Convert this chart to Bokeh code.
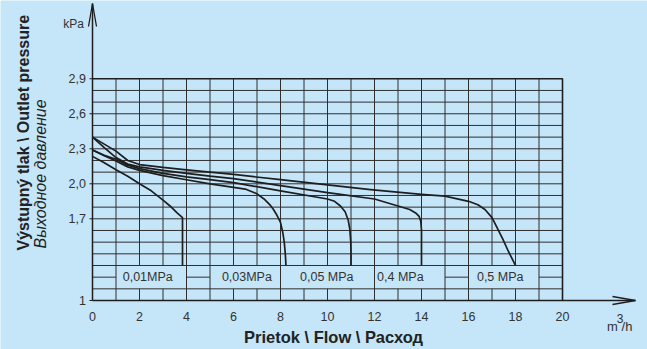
import numpy as np
from bokeh.plotting import figure
from bokeh.models import Range1d
from bokeh.core.properties import value
from bokeh.embed import file_html
from bokeh.resources import INLINE

# ---------------- data ----------------
series_names = ["0,01MPa", "0,03MPa", "0,05 MPa", "0,4 MPa", "0,5 MPa"]

flow_001 = [0, 0.5, 1, 1.5, 2, 2.5, 3, 3.3, 3.6, 3.83, 3.83]
pres_001 = [2.235, 2.18, 2.12, 2.065, 2.0, 1.94, 1.86, 1.81, 1.75, 1.71, 1.30]

flow_003 = [0, 0.5, 1, 1.5, 2, 3, 4, 5, 6, 6.5, 7.0, 7.3, 7.55, 7.7, 7.85, 8.0, 8.1, 8.16, 8.2, 8.22, 8.23]
pres_003 = [2.29, 2.24, 2.195, 2.145, 2.115, 2.07, 2.035, 2.0, 1.97, 1.955, 1.914, 1.87, 1.82, 1.78, 1.73, 1.67, 1.58, 1.50, 1.41, 1.35, 1.30]

flow_005 = [0, 0.5, 1, 1.5, 2, 3, 4, 5, 6, 8, 10, 10.3, 10.55, 10.75, 10.88, 10.95, 10.99, 11.0, 11.0]
pres_005 = [2.29, 2.245, 2.21, 2.16, 2.13, 2.09, 2.06, 2.035, 2.01, 1.94, 1.87, 1.85, 1.81, 1.76, 1.69, 1.61, 1.50, 1.40, 1.30]

flow_04 = [0, 0.5, 1, 1.5, 2, 3, 4, 5, 6, 8, 10, 10.55, 12, 13, 13.5, 13.75, 13.9, 13.97, 14.0, 14.0]
pres_04 = [2.40, 2.31, 2.225, 2.17, 2.145, 2.115, 2.09, 2.065, 2.045, 1.985, 1.925, 1.91, 1.87, 1.81, 1.78, 1.75, 1.72, 1.68, 1.60, 1.30]

flow_05 = [0, 0.5, 1, 1.5, 2, 3, 4, 5, 6, 8, 10, 11.83, 14, 15, 16, 16.4, 16.7, 17.0, 17.2, 17.45, 17.7, 18.0]
pres_05 = [2.40, 2.34, 2.28, 2.20, 2.165, 2.14, 2.12, 2.10, 2.08, 2.035, 1.99, 1.95, 1.91, 1.894, 1.85, 1.82, 1.78, 1.71, 1.63, 1.53, 1.42, 1.30]

x_ticks = [0, 2, 4, 6, 8, 10, 12, 14, 16, 18, 20]
x_tick_labels = ["0", "2", "4", "6", "8", "10", "12", "14", "16", "18", "20"]
y_ticks = [1.0, 1.7, 2.0, 2.3, 2.6, 2.9]
y_tick_labels = ["1", "1,7", "2,0", "2,3", "2,6", "2,9"]

grid_x_max = 20
grid_y_min, grid_y_max = 1.0, 2.9
band_low, band_mid, band_high = 1.1, 1.2, 1.3
label_boxes = [(1, 4), (5, 8), (8, 12), (12, 15), (16, 19)]
label_centers = [2.35, 6.57, 9.97, 13.1, 17.35]

x_title = "Prietok \\ Flow \\ Расход"
y_title_1 = "Výstupný tlak \\ Outlet pressure"
y_title_2 = "Выходное давление"
y_unit = "kPa"
x_unit_parts = ["m", "3", "/h"]

# ---------------- geometry / style ----------------
BG = "#c5e5f8"
INK = "#1e1e1e"
GRID = "#2f2f2f"
TXT = "#333333"
SANS = "Liberation Sans"

FIG_W, FIG_H = 647, 349
PXX, PXY = 23.5, 116.7           # pixels per data unit
OX, OY = 92, 300                 # canvas position of (0, 1)

x_start = -OX / PXX
x_end = x_start + FIG_W / PXX
y_start = 1 - (FIG_H - OY) / PXY
y_end = y_start + FIG_H / PXY


def fx(px):
    return (px - OX) / PXX


def fy(py):
    return 1 + (OY - py) / PXY


p = figure(width=FIG_W, height=FIG_H, output_backend="svg", toolbar_location=None,
           x_range=Range1d(x_start, x_end), y_range=Range1d(y_start, y_end),
           x_axis_location=None, y_axis_location=None,
           min_border=0, background_fill_color=BG, border_fill_color=BG,
           outline_line_color=None, title=None)
p.xgrid.visible = False
p.ygrid.visible = False

# ---------------- grid ----------------
box_edges = sorted({e for b in label_boxes for e in b})
gaps = []
cur = 0
for a, b in label_boxes:
    if a > cur:
        gaps.append((cur, a))
    cur = max(cur, b)
if cur < grid_x_max:
    gaps.append((cur, grid_x_max))

gx0, gy0, gx1, gy1 = [], [], [], []
for xv in range(1, grid_x_max):
    if xv in box_edges:
        gx0 += [xv]; gy0 += [grid_y_min]; gx1 += [xv]; gy1 += [grid_y_max]
    else:
        gx0 += [xv, xv]; gy0 += [grid_y_min, band_high]
        gx1 += [xv, xv]; gy1 += [band_low, grid_y_max]
for yv in np.round(np.arange(grid_y_min + 0.1, grid_y_max - 0.05, 0.1), 2):
    if abs(yv - band_mid) < 1e-6:
        for a, b in gaps:
            gx0.append(a); gy0.append(yv); gx1.append(b); gy1.append(yv)
    else:
        gx0.append(0); gy0.append(yv); gx1.append(grid_x_max); gy1.append(yv)
p.segment(x0=gx0, y0=gy0, x1=gx1, y1=gy1, line_color=GRID, line_width=1)

# frame border (top and right)
p.line(x=[0, grid_x_max, grid_x_max], y=[grid_y_max, grid_y_max, grid_y_min],
       line_color=INK, line_width=1.6)

# y tick marks (outward)
p.segment(x0=[-3 / PXX] * len(y_ticks), y0=y_ticks, x1=[0] * len(y_ticks), y1=y_ticks,
          line_color=INK, line_width=1)

# axes with arrows
x_tip = fx(635)
y_tip = fy(3)
p.line(x=[0, 0], y=[1, y_tip], line_color=INK, line_width=1.5)
p.line(x=[0, x_tip], y=[1, 1], line_color=INK, line_width=1.5)
p.line(x=[-4 / PXX, 0, 4 / PXX], y=[y_tip - 23 / PXY, y_tip, y_tip - 23 / PXY],
       line_color=INK, line_width=1.3)
p.line(x=[x_tip - 23 / PXX, x_tip, x_tip - 23 / PXX], y=[1 + 4 / PXY, 1, 1 - 4 / PXY],
       line_color=INK, line_width=1.3)

# tick labels
p.text(x=x_ticks, y=[fy(316)] * len(x_ticks), text=x_tick_labels, text_align="center",
       text_baseline="middle", text_font=value(SANS), text_font_size=value("12.5px"),
       text_color=TXT)
p.text(x=[fx(85.5)] * len(y_ticks), y=y_ticks, text=y_tick_labels, text_align="right",
       text_baseline="middle", text_font=value(SANS), text_font_size=value("12.5px"),
       text_color=TXT)

# ---------------- curves ----------------
curves = [(flow_001, pres_001), (flow_003, pres_003), (flow_005, pres_005),
          (flow_04, pres_04), (flow_05, pres_05)]
for fl, pr in curves:
    p.line(x=fl, y=pr, line_color=INK, line_width=1.7, line_join="round")

# band labels
p.text(x=label_centers, y=[band_mid] * len(label_centers), text=series_names,
       text_align="center", text_baseline="middle", text_font=value(SANS),
       text_font_size=value("12.5px"), text_color=TXT)

# ---------------- titles ----------------
p.text(x=[fx(333)], y=[fy(336)], text=[x_title], text_align="center",
       text_baseline="middle", text_font=value(SANS), text_font_size=value("16.5px"),
       text_font_style="bold", text_color="#222222")
p.text(x=[fx(22.5)], y=[fy(250)], text=[y_title_1], angle=np.pi / 2,
       text_align="left", text_baseline="middle", text_font=value(SANS),
       text_font_size=value("16px"), text_font_style="bold", text_color="#222222")
p.text(x=[fx(40)], y=[fy(248)], text=[y_title_2], angle=np.pi / 2,
       text_align="left", text_baseline="middle", text_font=value(SANS),
       text_font_size=value("16px"), text_font_style="italic", text_color="#222222")
p.text(x=[fx(73)], y=[fy(23.5)], text=[y_unit], text_align="center",
       text_baseline="middle", text_font=value(SANS), text_font_size=value("12px"),
       text_color=TXT)
unit_x = [612, 619.5, 626.5]
unit_y = [326, 318, 326]
unit_fs = ["13px", "12px", "13px"]
for ux, uy, fs, t in zip(unit_x, unit_y, unit_fs, x_unit_parts):
    p.text(x=[fx(ux)], y=[fy(uy)], text=[t], text_align="center",
           text_baseline="middle", text_font=value(SANS), text_font_size=value(fs),
           text_color=TXT)

open("out.html", "w").write(file_html(p, INLINE))
